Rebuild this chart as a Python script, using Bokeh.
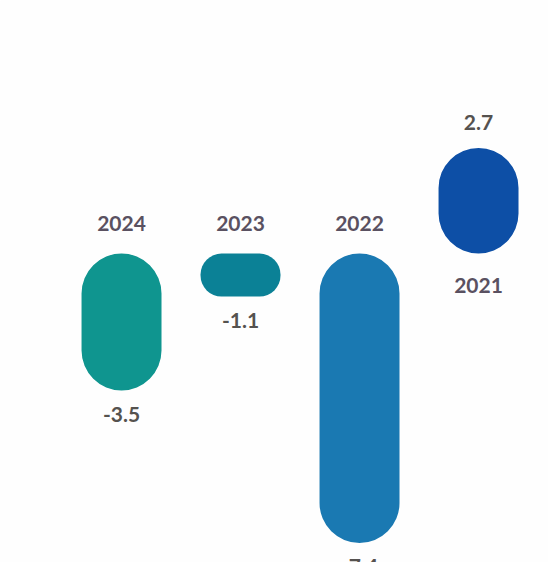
from bokeh.plotting import figure
from bokeh.models import Range1d, ColumnDataSource
from bokeh.core.properties import value
from bokeh.embed import file_html
from bokeh.resources import INLINE

years = ["2024", "2023", "2022", "2021"]
values = [-3.5, -1.1, -7.4, 2.7]
value_labels = ["-3.5", "-1.1", "-7.4", "2.7"]
colors = ["#0f958f", "#0b8196", "#1a79b2", "#0d4fa6"]

W, H = 548, 562
p = figure(width=W, height=H, output_backend="svg", toolbar_location=None,
           x_range=Range1d(-1.017, 3.588), y_range=Range1d(-7.90, 6.47),
           min_border=0, min_border_left=0, min_border_right=0,
           min_border_top=0, min_border_bottom=0)
p.axis.visible = False
p.grid.visible = False
p.outline_line_color = None
p.background_fill_color = "#fefefe"
p.border_fill_color = "#fefefe"

xs = list(range(len(years)))
for i, (v, c) in enumerate(zip(values, colors)):
    h_px = abs(v) * 39.1
    r = int(min(40, h_px / 2))
    top = max(v, 0)
    bottom = min(v, 0)
    p.vbar(x=[xs[i]], top=[top], bottom=[bottom], width=0.672,
           fill_color=c, line_color=None, border_radius=r)

year_y_off = [-30 if v < 0 else 32 for v in values]
val_y_off = [(24 if v < 0 else -25) for v in values]

src = ColumnDataSource(dict(
    x=xs, zero=[0] * len(xs), v=values, years=years, vlab=value_labels,
    yoff=year_y_off, voff=val_y_off,
))

p.text(x="x", y="zero", text="years", y_offset="yoff", source=src,
       text_align="center", text_baseline="middle",
       text_font=value("Lato"), text_font_style="bold",
       text_font_size="21px", text_color="#5a5161")
p.text(x="x", y="v", text="vlab", y_offset="voff", source=src,
       text_align="center", text_baseline="middle",
       text_font=value("Lato"), text_font_style="bold",
       text_font_size="21px", text_color="#55524f")

open("out.html", "w").write(file_html(p, INLINE))
